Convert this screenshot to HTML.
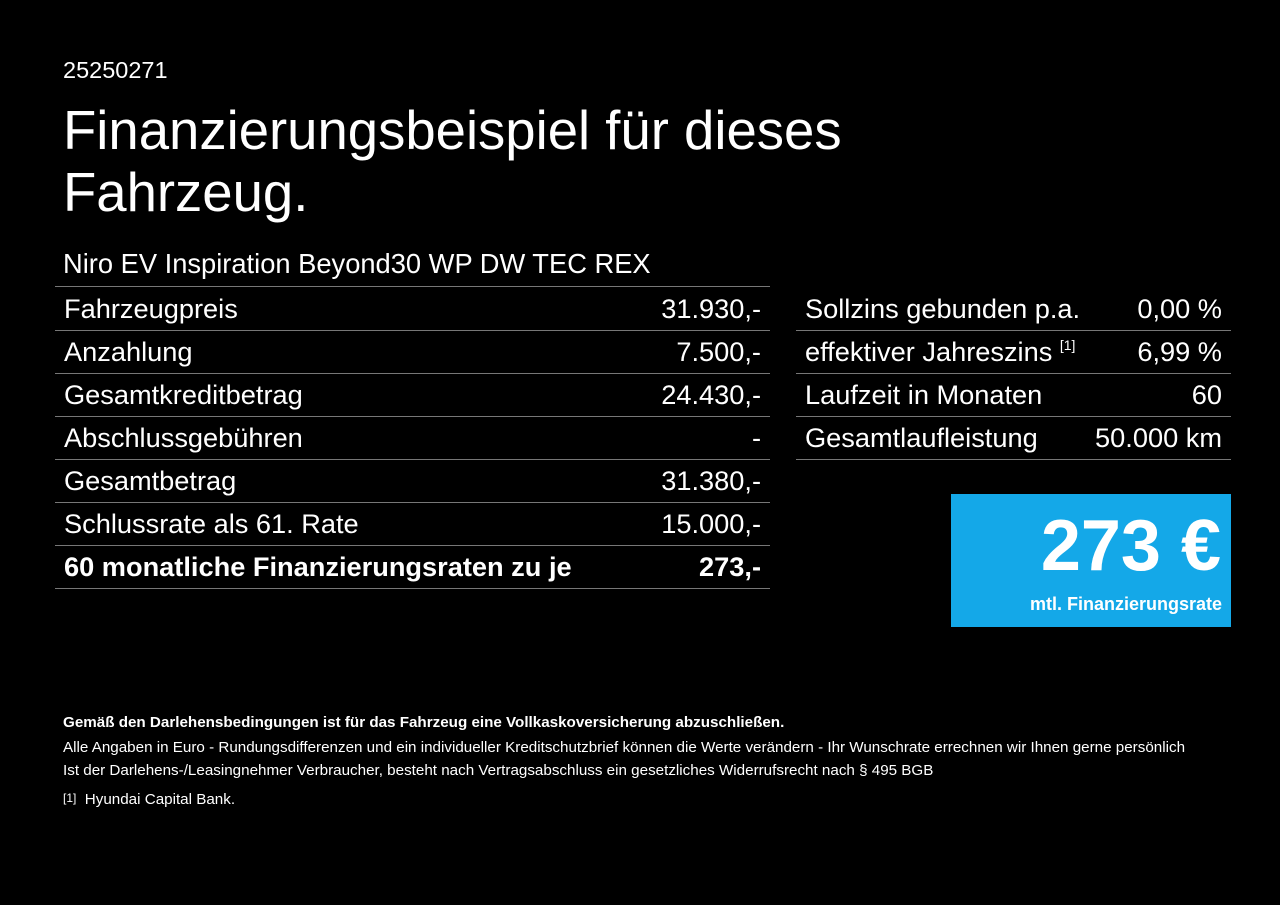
<!DOCTYPE html>
<html><head><meta charset="utf-8"><style>
body{margin:0;width:1280px;height:905px;background:#000;color:#fff;font-family:"Liberation Sans",Arial,sans-serif;position:relative;overflow:hidden}
.a{position:absolute;white-space:nowrap}
.row{position:absolute;height:43px;border-bottom:1px solid #777;font-size:27.2px;line-height:44px}
.row span.l{position:absolute;left:9px}
.row span.r{position:absolute;right:9px}
sup{font-size:14px;vertical-align:top;line-height:30px}
.f{font-size:15.2px}
</style></head><body>
<div class="a" style="left:63px;top:57px;font-size:23.5px">25250271</div>
<div class="a" style="left:63px;top:100px;font-size:54.5px;line-height:62px">Finanzierungsbeispiel für dieses<br>Fahrzeug.</div>
<div class="a" style="left:63px;top:248px;font-size:27.3px">Niro EV Inspiration Beyond30 WP DW TEC REX</div>
<div style="position:absolute;left:55px;top:286px;width:715px;border-top:1px solid #777"></div>
<div class="row" style="left:55px;top:287px;width:715px"><span class="l">Fahrzeugpreis</span><span class="r">31.930,-</span></div>
<div class="row" style="left:55px;top:330px;width:715px"><span class="l">Anzahlung</span><span class="r">7.500,-</span></div>
<div class="row" style="left:55px;top:373px;width:715px"><span class="l">Gesamtkreditbetrag</span><span class="r">24.430,-</span></div>
<div class="row" style="left:55px;top:416px;width:715px"><span class="l">Abschlussgebühren</span><span class="r">-</span></div>
<div class="row" style="left:55px;top:459px;width:715px"><span class="l">Gesamtbetrag</span><span class="r">31.380,-</span></div>
<div class="row" style="left:55px;top:502px;width:715px"><span class="l">Schlussrate als 61. Rate</span><span class="r">15.000,-</span></div>
<div class="row" style="left:55px;top:545px;width:715px;font-weight:bold;font-size:27.2px"><span class="l">60 monatliche Finanzierungsraten zu je</span><span class="r">273,-</span></div>
<div class="row" style="left:796px;top:287px;width:435px"><span class="l">Sollzins gebunden p.a.</span><span class="r">0,00 %</span></div>
<div class="row" style="left:796px;top:330px;width:435px"><span class="l">effektiver Jahreszins <sup>[1]</sup></span><span class="r">6,99 %</span></div>
<div class="row" style="left:796px;top:373px;width:435px"><span class="l">Laufzeit in Monaten</span><span class="r">60</span></div>
<div class="row" style="left:796px;top:416px;width:435px"><span class="l">Gesamtlaufleistung</span><span class="r">50.000 km</span></div>
<div style="position:absolute;left:951px;top:494px;width:280px;height:133px;background:#14a8e8">
<div class="a" style="right:10px;top:12px;font-size:72px;font-weight:bold;line-height:80px">273 €</div>
<div class="a" style="right:9px;top:100px;font-size:18px;font-weight:bold">mtl. Finanzierungsrate</div>
</div>
<div class="a f" style="left:63px;top:714px;font-weight:bold">Gemäß den Darlehensbedingungen ist für das Fahrzeug eine Vollkaskoversicherung abzuschließen.</div>
<div class="a f" style="left:63px;top:739px">Alle Angaben in Euro - Rundungsdifferenzen und ein individueller Kreditschutzbrief können die Werte verändern - Ihr Wunschrate errechnen wir Ihnen gerne persönlich</div>
<div class="a f" style="left:63px;top:762px">Ist der Darlehens-/Leasingnehmer Verbraucher, besteht nach Vertragsabschluss ein gesetzliches Widerrufsrecht nach § 495 BGB</div>
<div class="a f" style="left:63px;top:791px"><span style="font-size:12px;vertical-align:top">[1]</span>&nbsp; Hyundai Capital Bank.</div>
</body></html>
